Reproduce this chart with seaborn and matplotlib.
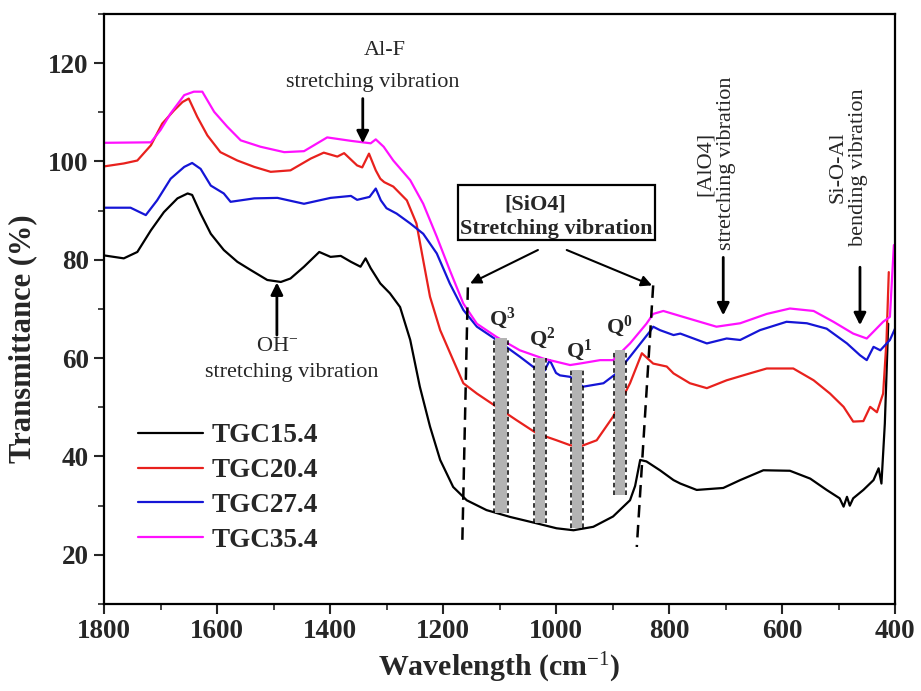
import numpy as np
import pandas as pd
import matplotlib
matplotlib.use("Agg")
import matplotlib.pyplot as plt
import seaborn as sns
from matplotlib.patches import Rectangle

# ---------------- data ----------------
samples = ["TGC15.4", "TGC20.4", "TGC27.4", "TGC35.4"]
colors = ["#000000", "#e8211d", "#1515d6", "#ff10ff"]

wn_15 = [1800, 1765, 1741, 1717, 1694, 1670, 1652, 1644, 1629, 1611, 1588, 1564, 1540, 1511,
         1487, 1470, 1446, 1419, 1399, 1381, 1363, 1346, 1337, 1328, 1311, 1294, 1276, 1258,
         1241, 1223, 1205, 1182, 1158, 1123, 1081, 1034, 999, 969, 934, 899, 869, 860, 851,
         840, 816, 792, 780, 751, 704, 674, 633, 586, 550, 521, 498, 491, 485, 480, 474, 456,
         438, 429, 424, 418, 412]
t_15 = [80.9, 80.3, 81.6, 86.0, 89.7, 92.5, 93.5, 93.2, 89.4, 85.3, 82.0, 79.6, 77.9, 75.9,
        75.5, 76.2, 78.6, 81.6, 80.6, 80.8, 79.6, 78.6, 80.3, 78.3, 75.2, 73.2, 70.4, 63.7,
        54.2, 46.1, 39.3, 33.8, 31.1, 29.1, 27.7, 26.4, 25.4, 25.0, 25.7, 27.8, 31.1, 34.0, 39.3,
        39.0, 37.2, 35.2, 34.5, 33.2, 33.6, 35.2, 37.2, 37.1, 35.5, 33.2, 31.5, 29.8, 31.8, 30.0,
        31.5, 33.2, 35.2, 37.6, 34.5, 46.7, 67.0]

wn_20 = [1800, 1765, 1741, 1717, 1697, 1676, 1661, 1650, 1635, 1617, 1594, 1564, 1534, 1505,
         1470, 1434, 1411, 1387, 1375, 1352, 1343, 1331, 1319, 1311, 1304, 1288, 1264, 1247,
         1235, 1223, 1205, 1182, 1164, 1140, 1105, 1070, 1034, 999, 975, 958, 928, 899, 869,
         848, 828, 804, 792, 763, 733, 698, 657, 627, 580, 544, 515, 491, 474, 456, 444, 432,
         421, 415, 411]
t_20 = [99.0, 99.6, 100.2, 103.3, 107.7, 110.4, 112.1, 112.8, 109.1, 105.3, 101.9, 100.2, 98.9,
        97.9, 98.2, 100.6, 101.8, 101.0, 101.7, 99.2, 98.8, 101.6, 98.2, 96.5, 95.8, 94.9, 92.1,
        87.4, 79.9, 72.5, 65.7, 59.6, 54.9, 52.8, 50.1, 47.4, 44.7, 43.3, 42.3, 42.0, 43.3, 48.1,
        54.9, 61.0, 58.9, 58.3, 56.9, 54.9, 53.9, 55.5, 56.9, 57.9, 57.9, 55.5, 52.8, 50.1, 47.1,
        47.2, 50.1, 49.0, 52.8, 63.7, 77.5]

wn_27 = [1800, 1753, 1726, 1706, 1682, 1658, 1644, 1629, 1611, 1588, 1576, 1534, 1493, 1446,
         1399, 1363, 1352, 1330, 1319, 1310, 1300, 1282, 1258, 1235, 1211, 1188, 1164, 1140,
         1105, 1064, 1040, 1020, 1011, 1000, 993, 975, 952, 916, 893, 869, 834, 828, 816, 792,
         780, 733, 698, 674, 639, 592, 556, 521, 485, 462, 450, 438, 426, 409, 400]
t_27 = [90.6, 90.6, 89.1, 92.1, 96.5, 98.9, 99.7, 98.5, 95.1, 93.5, 91.8, 92.5, 92.6, 91.4,
        92.6, 93.0, 92.2, 92.8, 94.5, 92.1, 90.5, 89.4, 87.4, 85.3, 81.3, 75.2, 69.8, 66.4,
        63.7, 60.3, 58.2, 57.5, 59.6, 57.0, 56.5, 56.2, 54.2, 54.9, 56.9, 60.3, 65.4, 66.4, 65.7,
        64.7, 65.0, 63.0, 64.0, 63.7, 65.7, 67.4, 67.1, 66.0, 63.0, 60.6, 59.6, 62.3, 61.6, 63.7,
        66.0]

wn_35 = [1800, 1717, 1700, 1682, 1658, 1641, 1626, 1605, 1582, 1558, 1523, 1481, 1446, 1405,
         1363, 1328, 1319, 1305, 1288, 1258, 1235, 1211, 1188, 1164, 1140, 1105, 1064, 1022,
         975, 958, 922, 899, 869, 840, 828, 810, 775, 716, 674, 627, 586, 544, 509, 474, 450,
         438, 421, 409, 402]
t_35 = [103.8, 103.9, 106.4, 109.8, 113.5, 114.2, 114.2, 110.1, 107.1, 104.3, 103.0, 101.9,
        102.1, 104.9, 104.2, 103.7, 104.5, 103.0, 100.2, 96.2, 91.4, 84.7, 77.9, 71.1, 67.0,
        64.3, 61.6, 59.9, 58.6, 58.9, 59.6, 59.6, 63.0, 67.0, 69.0, 69.6, 68.4, 66.4, 67.1, 69.0,
        70.1, 69.6, 67.4, 65.0, 64.0, 65.4, 67.4, 68.4, 83.0]

# Q band positions (cm-1) and labels
q_labels = ["Q^3", "Q^2", "Q^1", "Q^0"]
q_left = [1108, 1037, 972, 896]
q_right = [1087, 1019, 954, 878]
q_top = [64.1, 60.0, 57.6, 61.6]
q_bottom = [28.5, 26.5, 25.4, 32.2]

x_ticks = [1800, 1600, 1400, 1200, 1000, 800, 600, 400]
y_ticks = [20, 40, 60, 80, 100, 120]

# ---------------- build long table ----------------
frames = []
for name, wn, t in zip(samples, [wn_15, wn_20, wn_27, wn_35], [t_15, t_20, t_27, t_35]):
    frames.append(pd.DataFrame({"Wavenumber": wn, "Transmittance": t, "Sample": name}))
df = pd.concat(frames, ignore_index=True)

# ---------------- style ----------------
sns.set_theme(style="ticks")
plt.rcParams["font.family"] = ["Liberation Serif", "DejaVu Serif"]
plt.rcParams["mathtext.fontset"] = "custom"
plt.rcParams["mathtext.rm"] = "Liberation Serif"
plt.rcParams["mathtext.bf"] = "Liberation Serif:bold"
plt.rcParams["mathtext.it"] = "Liberation Serif:italic"

fig = plt.figure(figsize=(9.21, 6.91), dpi=100)
ax = fig.add_axes([104 / 921, 1 - 604 / 691, 791 / 921, 590 / 691])

sns.lineplot(data=df, x="Wavenumber", y="Transmittance", hue="Sample",
             palette=dict(zip(samples, colors)), estimator=None, sort=False,
             linewidth=1.6, ax=ax)

ax.set_xlim(1800, 400)
ax.set_ylim(10, 130)
ax.set_xticks(x_ticks)
ax.set_yticks(y_ticks)
ax.set_xticks(np.arange(1700, 400, -200), minor=True)
ax.set_yticks(np.arange(10, 131, 20), minor=True)
ax.tick_params(axis="both", which="major", direction="out", length=7, width=1.5,
               labelsize=19.5, pad=4)
ax.tick_params(axis="both", which="minor", direction="out", length=4, width=1.2)
for lab in ax.get_xticklabels() + ax.get_yticklabels():
    lab.set_fontweight("bold")
for s in ax.spines.values():
    s.set_linewidth(1.6)
    s.set_color("black")

ax.set_xlabel(r"Wavelength (cm$^{-1}$)", fontsize=21.5, fontweight="bold", labelpad=5)
ax.set_ylabel("Transmittance (%)", fontsize=22, fontweight="bold")
ax.yaxis.set_label_coords(-0.085, 0.45)

handles, labels = ax.get_legend_handles_labels()
ax.legend(handles, labels, loc="upper left", bbox_to_anchor=(0.043, 0.306),
          frameon=False, prop=dict(weight="bold", size=19.5),
          handlelength=2.4, handletextpad=0.3, labelspacing=0.36,
          borderpad=0, borderaxespad=0)

arrow_thick = dict(arrowstyle="-|>", color="black", lw=2.0, mutation_scale=18,
                   shrinkA=0, shrinkB=0)
arrow_thin = dict(arrowstyle="-|>", color="black", lw=1.5, mutation_scale=16,
                  shrinkA=0, shrinkB=0)

fs = 16
# Al-F
ax.text(1303, 122.6, "Al-F", fontsize=fs, ha="center", va="center")
ax.text(1324, 116.1, "stretching vibration", fontsize=fs, ha="center", va="center")
ax.annotate("", xy=(1342, 103.7), xytext=(1342, 112.8), arrowprops=arrow_thick)

# OH-
ax.annotate("", xy=(1494, 75.4), xytext=(1494, 64.7), arrowprops=arrow_thick)
ax.text(1494, 62.4, r"OH$^{-}$", fontsize=fs, ha="center", va="center")
ax.text(1467, 57.0, "stretching vibration", fontsize=fs, ha="center", va="center")

# [SiO4] box
ax.add_patch(Rectangle((1173.5, 84.0), 825 - 1173.5, 11.2, fill=False,
                       edgecolor="black", lw=1.6, zorder=5))
ax.text(1037, 91.3, "[SiO4]", fontsize=fs, fontweight="bold", ha="center", va="center")
ax.text(1000, 86.2, "Stretching vibration", fontsize=fs, fontweight="bold",
        ha="center", va="center")
ax.annotate("", xy=(1152, 75.2), xytext=(1032, 82.0), arrowprops=arrow_thin)
ax.annotate("", xy=(830, 74.8), xytext=(981, 82.0), arrowprops=arrow_thin)
ax.plot([1156, 1166], [74.4, 21.6], color="black", lw=1.8, ls=(0, (5, 3)))
ax.plot([828, 857], [74.8, 21.6], color="black", lw=1.8, ls=(0, (5, 3)))

# Q bands
q_label_pos = [(1095, 68.1), (1025, 64.0), (958, 61.6), (888, 66.5)]
for lab, xl, xr, yt, yb, (tx, ty) in zip(q_labels, q_left, q_right, q_top, q_bottom, q_label_pos):
    ax.add_patch(Rectangle((xl, yb), xr - xl, yt - yb, facecolor="#b3b3b3",
                           edgecolor="none", zorder=3))
    ax.vlines([xl + 1.5, xr - 1.5], yb, yt, colors="black", lw=1.1,
              linestyles=(0, (3, 2)), zorder=4)
    ax.text(tx, ty, r"$\mathbf{" + lab + "}$", fontsize=fs, ha="center", va="center")

# [AlO4]
ax.text(717, 99.6, "[AlO4]\nstretching vibration", fontsize=fs, rotation=90,
        ha="center", va="center", multialignment="center", linespacing=1.1)
ax.annotate("", xy=(704, 68.7), xytext=(704, 80.5), arrowprops=arrow_thick)

# Si-O-Al
ax.text(483, 98.8, "Si-O-Al\nbending vibration", fontsize=fs, rotation=90,
        ha="center", va="center", multialignment="center", linespacing=1.1)
ax.annotate("", xy=(462, 66.7), xytext=(462, 78.5), arrowprops=arrow_thick)

fig.savefig("out.png", dpi=100)
